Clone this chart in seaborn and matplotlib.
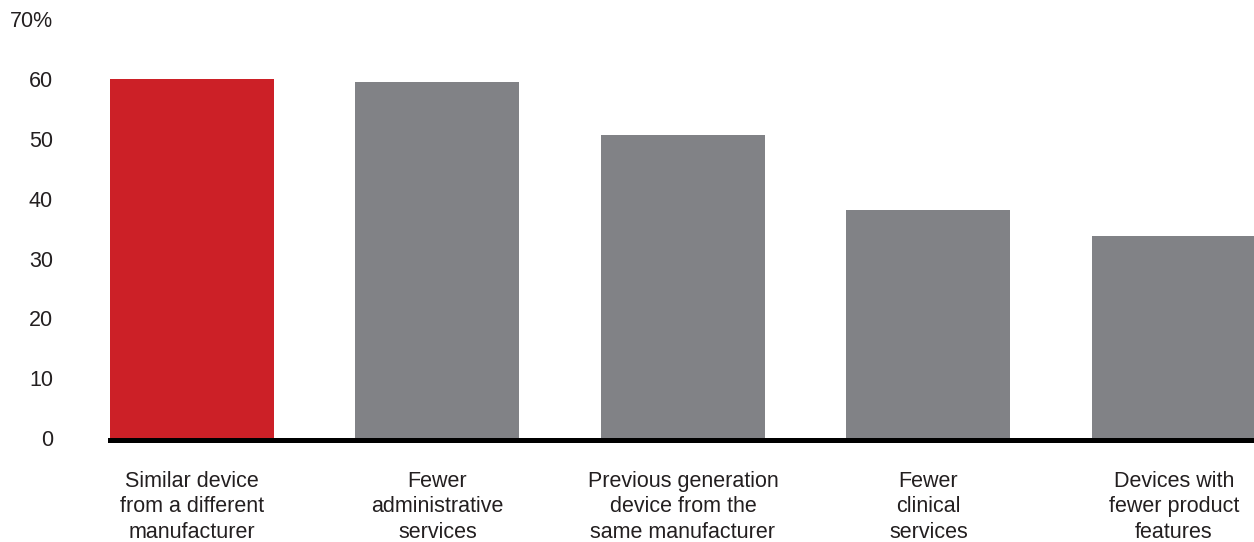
import matplotlib
matplotlib.use("Agg")
import matplotlib.pyplot as plt
import seaborn as sns

categories = [
    "Similar device\nfrom a different\nmanufacturer",
    "Fewer\nadministrative\nservices",
    "Previous generation\ndevice from the\nsame manufacturer",
    "Fewer\nclinical\nservices",
    "Devices with\nfewer product\nfeatures",
]
values = [60.0, 59.6, 50.7, 38.1, 33.8]
bar_colors = ["#cc2027", "#818286", "#818286", "#818286", "#818286"]
y_ticks = [0, 10, 20, 30, 40, 50, 60, 70]
y_tick_labels = ["0", "10", "20", "30", "40", "50", "60", "70%"]

sns.set_theme(style="white")
plt.rcParams["font.family"] = ["Liberation Sans", "DejaVu Sans"]

fig = plt.figure(figsize=(12.54, 5.42), dpi=100)
ax = fig.add_axes([110 / 1254, 104 / 542, 1 - 110 / 1254, (522.6 - 104) / 542])

sns.barplot(
    x=categories, y=values, hue=categories, palette=bar_colors,
    legend=False, width=0.668, saturation=1, ax=ax, zorder=3,
    linewidth=0, edgecolor="none",
)

ax.set_xlim(-0.334, 4.326)
ax.set_ylim(0, 70)
ax.set_yticks(y_ticks)
ax.set_yticklabels(y_tick_labels)
ax.set_xticks(range(len(categories)))
ax.set_xticklabels(categories, ha="center")
ax.tick_params(axis="y", length=0, pad=41, labelsize=15.5, colors="#231f20")
ax.tick_params(axis="x", length=0, pad=22, labelsize=15.5, colors="#231f20")

for side in ["top", "right", "left"]:
    ax.spines[side].set_visible(False)
ax.spines["bottom"].set_linewidth(3.6)
ax.spines["bottom"].set_color("black")
ax.spines["bottom"].set_position(("outward", 1.6))
ax.spines["bottom"].set_zorder(2)
ax.set_xlabel("")
ax.set_ylabel("")

# slightly wider spacing between the lines of each category label
fig.canvas.draw()
for lbl in ax.get_xticklabels():
    lbl.set_linespacing(1.28)

fig.savefig("out.png", dpi=100)
